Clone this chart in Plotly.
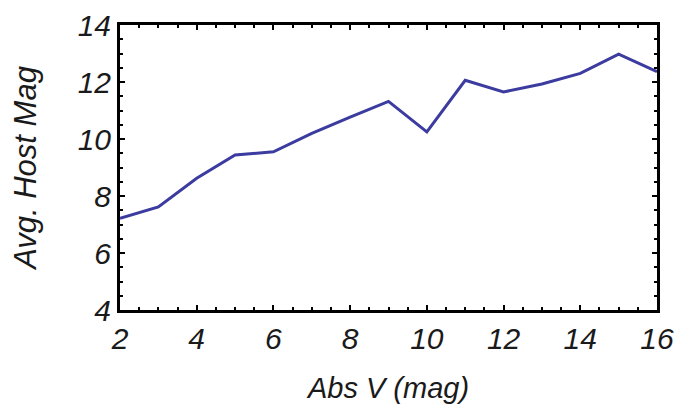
import plotly.graph_objects as go

abs_v = [2, 3, 4, 5, 6, 7, 8, 9, 10, 11, 12, 13, 14, 15, 16]
host_mag = [7.22, 7.62, 8.62, 9.44, 9.55, 10.2, 10.77, 11.32, 10.25, 12.06, 11.65, 11.93, 12.3, 12.98, 12.36]

x_ticks = [2, 4, 6, 8, 10, 12, 14, 16]
y_ticks = [4, 6, 8, 10, 12, 14]

tick_font = dict(family="Liberation Sans, Arial, sans-serif", size=30, color="#1a1a1a", style="italic")
xtitle_font = dict(family="Liberation Sans, Arial, sans-serif", size=29, color="#1a1a1a", style="italic")
ytitle_font = dict(family="Liberation Sans, Arial, sans-serif", size=31, color="#1a1a1a", style="italic")

fig = go.Figure()
fig.add_trace(go.Scatter(x=abs_v, y=host_mag, mode="lines",
                         line=dict(color="#3b3ba0", width=3)))

axis_common = dict(
    showgrid=False, zeroline=False, showline=True, linecolor="black", linewidth=3,
    mirror="allticks", ticks="inside", ticklen=5, tickwidth=2, tickcolor="black",
    tickfont=tick_font, automargin=False,
    minor=dict(dtick=0.5, ticks="inside", ticklen=3, tickwidth=2, tickcolor="black"),
)

fig.update_layout(
    width=679, height=408,
    margin=dict(l=120, r=22, t=25, b=98),
    paper_bgcolor="white", plot_bgcolor="white",
    showlegend=False,
    xaxis=dict(range=[2, 16], tickvals=x_ticks, ticktext=[str(v) for v in x_ticks],
               title=dict(text="Abs V (mag)", font=xtitle_font, standoff=24), **axis_common),
    yaxis=dict(range=[4, 14], tickvals=y_ticks, ticktext=[str(v) for v in y_ticks],
               title=dict(text="Avg. Host Mag", font=ytitle_font, standoff=32), **axis_common),
)

fig.write_html("out.html")
